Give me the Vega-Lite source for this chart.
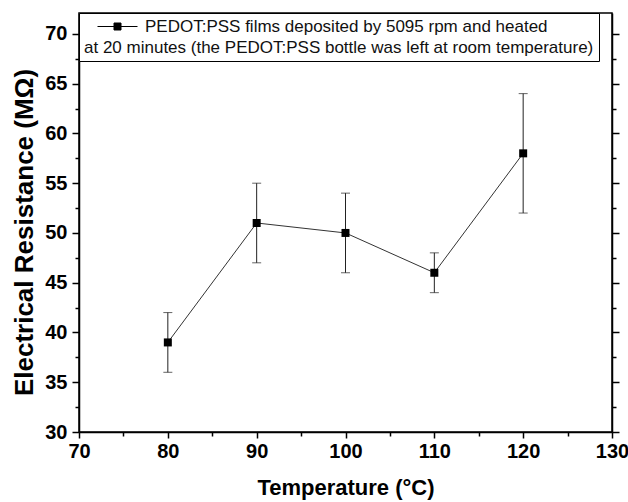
{
  "$schema": "https://vega.github.io/schema/vega-lite/v6.json",
  "autosize": "none",
  "width": 533,
  "height": 419,
  "padding": {"left": 79, "top": 13, "right": 16, "bottom": 70},
  "background": "white",
  "config": {
    "view": {"stroke": "black", "strokeWidth": 1.5},
    "font": "Liberation Sans",
    "axis": {"labelFont": "Liberation Sans", "titleFont": "Liberation Sans", "domainColor": "black", "tickColor": "black", "labelColor": "black", "titleColor": "black", "domainWidth": 1.5, "tickWidth": 1.5, "grid": false}
  },
  "resolve": {"axis": {"y": "independent"}},
  "data": {
    "values": [
      {"temp": 80, "r": 39, "lo": 36, "hi": 42, "series": "PEDOT:PSS films deposited by 5095 rpm and heated"},
      {"temp": 90, "r": 51, "lo": 47, "hi": 55, "series": "PEDOT:PSS films deposited by 5095 rpm and heated"},
      {"temp": 100, "r": 50, "lo": 46, "hi": 54, "series": "PEDOT:PSS films deposited by 5095 rpm and heated"},
      {"temp": 110, "r": 46, "lo": 44, "hi": 48, "series": "PEDOT:PSS films deposited by 5095 rpm and heated"},
      {"temp": 120, "r": 58, "lo": 52, "hi": 64, "series": "PEDOT:PSS films deposited by 5095 rpm and heated"}
    ]
  },
  "layer": [
    {
      "mark": {"type": "rule", "color": "#222", "strokeWidth": 1},
      "encoding": {
        "x": {"field": "temp", "type": "quantitative", "scale": {"domain": [70, 130], "nice": false},
          "axis": {"values": [70, 75, 80, 85, 90, 95, 100, 105, 110, 115, 120, 125, 130], "labelExpr": "datum.value % 10 === 0 ? datum.label : ''",
            "tickSize": {"condition": {"test": "datum.value % 10 === 0", "value": 6}, "value": 4},
            "labelFontSize": 20, "labelFontWeight": "bold", "labelPadding": 3, "labelFlush": false,
            "title": "Temperature (°C)", "titleFontSize": 22, "titleFontWeight": "bold", "titlePadding": 16}},
        "y": {"field": "lo", "type": "quantitative", "scale": {"domain": [30, 72.1], "nice": false, "zero": false},
          "axis": {"values": [30, 32.5, 35, 37.5, 40, 42.5, 45, 47.5, 50, 52.5, 55, 57.5, 60, 62.5, 65, 67.5, 70], "labelExpr": "datum.value % 5 === 0 ? datum.label : ''",
            "tickSize": {"condition": {"test": "datum.value % 5 === 0", "value": 7}, "value": 4},
            "labelFontSize": 20, "labelFontWeight": "bold", "labelPadding": 5, "labelFlush": false,
            "title": "Electrical Resistance (MΩ)", "titleFontSize": 26, "titleFontWeight": "bold", "titlePadding": 7, "titleY": 219}},
        "y2": {"field": "hi"}
      }
    },
    {
      "mark": {"type": "tick", "orient": "horizontal", "color": "#222", "size": 9, "thickness": 1},
      "encoding": {
        "x": {"field": "temp", "type": "quantitative"},
        "y": {"field": "lo", "type": "quantitative", "axis": null}
      }
    },
    {
      "mark": {"type": "tick", "orient": "horizontal", "color": "#222", "size": 9, "thickness": 1},
      "encoding": {
        "x": {"field": "temp", "type": "quantitative"},
        "y": {"field": "hi", "type": "quantitative",
          "axis": {"orient": "right", "values": [30, 32.5, 35, 37.5, 40, 42.5, 45, 47.5, 50, 52.5, 55, 57.5, 60, 62.5, 65, 67.5, 70], "labels": false, "title": null,
            "tickSize": {"condition": {"test": "datum.value % 5 === 0", "value": 7}, "value": 4}}}
      }
    },
    {
      "mark": {"type": "line", "color": "#333", "strokeWidth": 1},
      "encoding": {
        "x": {"field": "temp", "type": "quantitative"},
        "y": {"field": "r", "type": "quantitative", "axis": null}
      }
    },
    {
      "mark": {"type": "point", "shape": "square", "filled": true, "size": 64, "opacity": 1},
      "encoding": {
        "x": {"field": "temp", "type": "quantitative"},
        "y": {"field": "r", "type": "quantitative", "axis": null},
        "color": {"field": "series", "type": "nominal", "scale": {"range": ["black"]},
          "legend": {"orient": "top-left", "offset": 0, "padding": 5, "strokeColor": "black", "fillColor": "white",
            "title": "at 20 minutes (the PEDOT:PSS bottle was left at room temperature)", "titleOrient": "bottom", "titleFontWeight": "normal", "titleFontSize": 17, "titleColor": "#111", "titlePadding": 5, "titleLimit": 0,
            "labelFontSize": 17, "labelColor": "#111", "labelLimit": 0, "labelOffset": 34, "symbolOffset": 10,
            "symbolType": "M-1,0H2.3M3.7,0H7M2.3,-0.7H3.7V0.7H2.3Z", "symbolSize": 100, "symbolStrokeWidth": 1, "symbolFillColor": "black", "symbolStrokeColor": "black",
            "encode": {"title": {"enter": {"dx": {"value": 10}}, "update": {"dx": {"value": 10}}}}}}
      }
    }
  ]
}
